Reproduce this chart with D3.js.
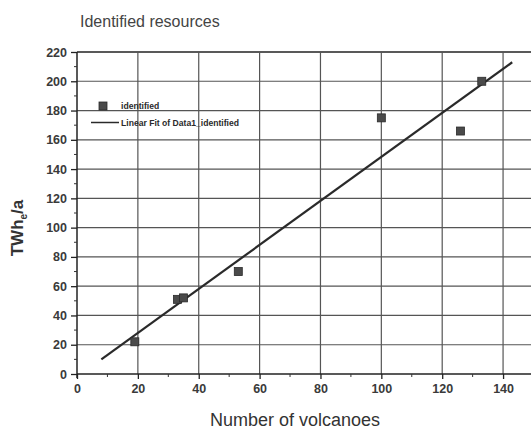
<!DOCTYPE html>
<html>
<head>
<meta charset="utf-8">
<script src="https://cdn.jsdelivr.net/npm/d3@7"></script>
<style>
  body { margin: 0; background: #fff; }
  svg { display: block; font-family: 'Liberation Sans', Arial, sans-serif; }
</style>
</head>
<body>
<div id="container"></div>
<script>
const w = 531;
const h = 430;

// measured points: number of volcanoes vs TWh_e/a
const volcanoes = [19, 33, 35, 53, 100, 126, 133];
const energy = [22, 51, 52, 70, 175, 166, 200];
// linear fit line endpoints
const fitX = [8, 143];
const fitY = [10, 213];
const xTicks = [0, 20, 40, 60, 80, 100, 120, 140];
const yTicks = [0, 20, 40, 60, 80, 100, 120, 140, 160, 180, 200, 220];
const legendLabels = ['identified', 'Linear Fit of Data1_identified'];

const svg = d3.select('#container')
  .append('svg')
  .attr('width', w)
  .attr('height', h);

const xScale = d3.scaleLinear().domain([0, 150]).range([77, 533.5]);
const yScale = d3.scaleLinear().domain([0, 220]).range([374, 52]);

// grid
svg.append('g')
  .selectAll('line')
  .data(yTicks.filter(d => d > 0))
  .enter()
  .append('line')
  .attr('x1', xScale(0))
  .attr('x2', w)
  .attr('y1', d => yScale(d))
  .attr('y2', d => yScale(d))
  .attr('stroke', d => d === 220 ? '#222' : '#555')
  .attr('stroke-width', d => d === 220 ? 1.5 : 1.2);
svg.append('g')
  .selectAll('line')
  .data(xTicks.filter(d => d > 0))
  .enter()
  .append('line')
  .attr('x1', d => xScale(d))
  .attr('x2', d => xScale(d))
  .attr('y1', yScale(220))
  .attr('y2', yScale(0))
  .attr('stroke', '#555')
  .attr('stroke-width', 1.2);

// axes
const xAxis = d3.axisBottom(xScale).tickValues(xTicks).tickSize(5).tickPadding(5);
const yAxis = d3.axisLeft(yScale).tickValues(yTicks).tickSize(6).tickPadding(4);
const gx = svg.append('g')
  .attr('transform', `translate(0,${yScale(0)})`)
  .call(xAxis);
gx.select('.domain').remove();
gx.append('line')
  .attr('x1', xScale(0)).attr('x2', w)
  .attr('stroke', '#222').attr('stroke-width', 1.5);
gx.selectAll('.minor')
  .data(d3.range(10, 150, 20))
  .enter()
  .append('line')
  .attr('x1', d => xScale(d)).attr('x2', d => xScale(d))
  .attr('y1', 0).attr('y2', 3)
  .attr('stroke', '#333');
const gy = svg.append('g')
  .attr('transform', `translate(${xScale(0)},0)`)
  .call(yAxis);
gy.select('.domain').remove();
gy.append('line')
  .attr('y1', yScale(0) + 4).attr('y2', yScale(220))
  .attr('stroke', '#222').attr('stroke-width', 1.5);
gy.selectAll('.minor')
  .data(d3.range(10, 220, 20))
  .enter()
  .append('line')
  .attr('y1', d => yScale(d)).attr('y2', d => yScale(d))
  .attr('x1', -3).attr('x2', 0)
  .attr('stroke', '#333');
svg.selectAll('.tick line').attr('stroke', '#222').attr('stroke-width', 1.3);
svg.selectAll('.tick text')
  .style('font-size', '12.5px')
  .style('font-weight', 'bold')
  .style('font-family', "'Liberation Sans', Arial, sans-serif")
  .attr('fill', '#3a3a3a');

// fit line
const line = d3.line()
  .x(d => xScale(d[0]))
  .y(d => yScale(d[1]));
svg.append('path')
  .datum(d3.zip(fitX, fitY))
  .attr('d', line)
  .attr('fill', 'none')
  .attr('stroke', '#2a2a2a')
  .attr('stroke-width', 2.2);

// points
svg.append('g')
  .selectAll('rect')
  .data(d3.zip(volcanoes, energy))
  .enter()
  .append('rect')
  .attr('x', d => xScale(d[0]) - 4)
  .attr('y', d => yScale(d[1]) - 4)
  .attr('width', 8)
  .attr('height', 8)
  .attr('fill', '#4a4a4a')
  .attr('stroke', '#2a2a2a')
  .attr('stroke-width', 0.8);

// legend
const legend = svg.append('g');
legend.append('rect')
  .attr('x', 99).attr('y', 102)
  .attr('width', 8).attr('height', 8)
  .attr('fill', '#4a4a4a').attr('stroke', '#2a2a2a').attr('stroke-width', 0.8);
legend.append('line')
  .attr('x1', 91).attr('x2', 119)
  .attr('y1', 122.5).attr('y2', 122.5)
  .attr('stroke', '#2a2a2a').attr('stroke-width', 1.5);
legend.selectAll('text')
  .data(legendLabels)
  .enter()
  .append('text')
  .attr('x', 121)
  .attr('y', (d, i) => 109 + i * 16.5)
  .text(d => d)
  .style('font-size', '8.6px')
  .style('font-weight', 'bold')
  .attr('fill', '#2a2a2a');

// titles
svg.append('text')
  .attr('x', 80).attr('y', 27)
  .text('Identified resources')
  .style('font-size', '16px')
  .attr('fill', '#444');
svg.append('text')
  .attr('x', 295).attr('y', 426)
  .attr('text-anchor', 'middle')
  .text('Number of volcanoes')
  .style('font-size', '18px')
  .attr('fill', '#333');
const yl = svg.append('text')
  .attr('transform', 'translate(23,228) rotate(-90)')
  .attr('text-anchor', 'middle')
  .style('font-size', '17px')
  .style('font-weight', 'bold')
  .attr('fill', '#333');
yl.append('tspan').text('TWh');
yl.append('tspan').attr('dy', 4).style('font-size', '10px').text('e');
yl.append('tspan').attr('dy', -4).text('/a');
</script>
</body>
</html>
